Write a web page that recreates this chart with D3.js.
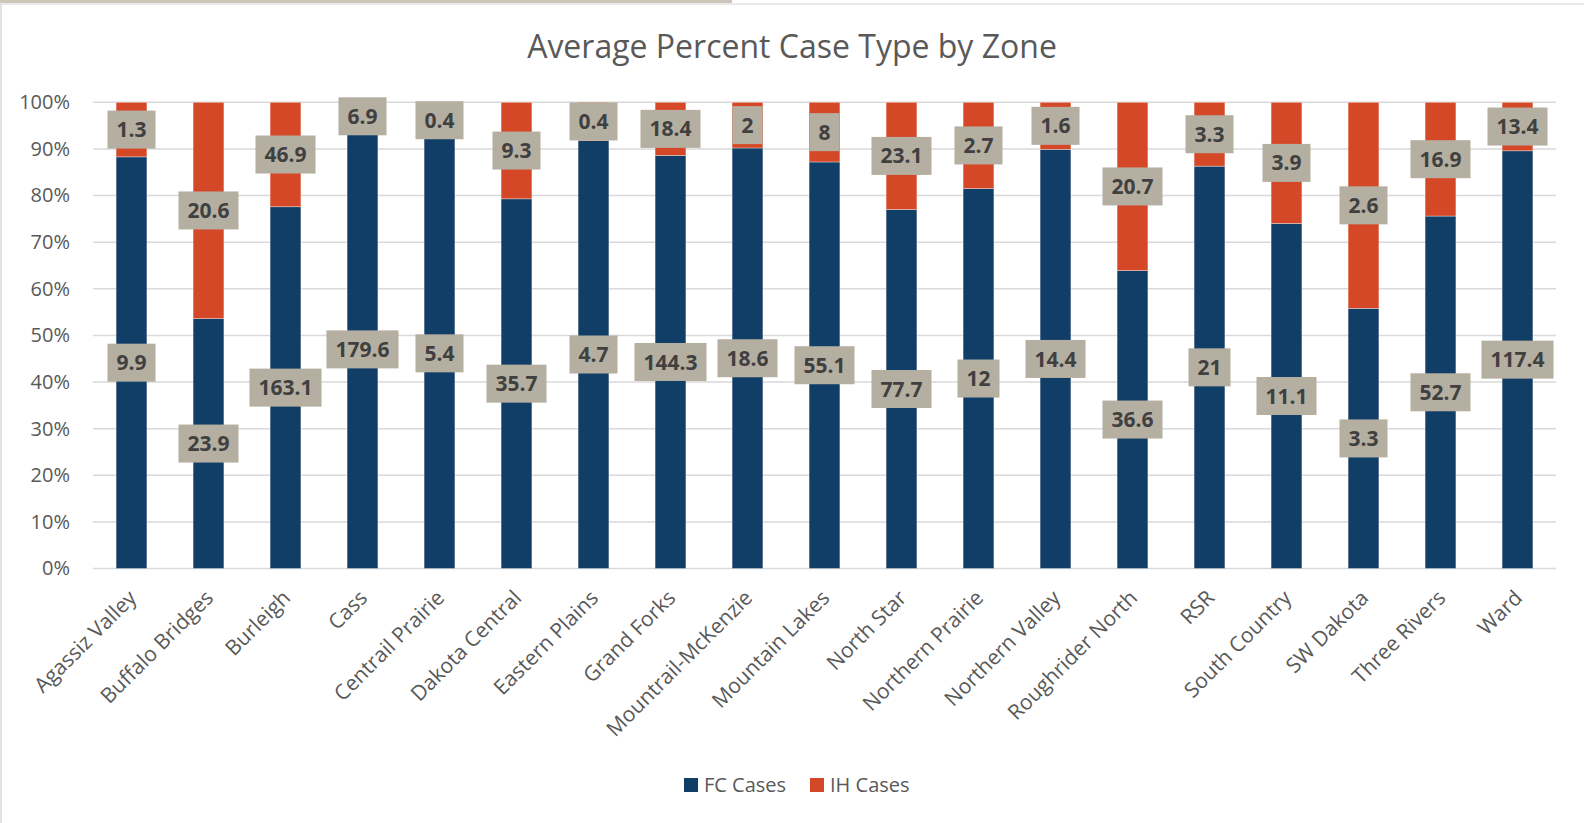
<!DOCTYPE html>
<html>
<head>
<meta charset="utf-8">
<script src="https://cdn.jsdelivr.net/npm/d3@7"></script>
<style>
  html, body { margin: 0; padding: 0; background: #fff; }
  svg { display: block; font-family: "Open Sans", sans-serif; }
</style>
</head>
<body>
<div id="chart"></div>
<script>
// zones on the x axis
var zones = ["Agassiz Valley", "Buffalo Bridges", "Burleigh", "Cass", "Centrail Prairie",
  "Dakota Central", "Eastern Plains", "Grand Forks", "Mountrail-McKenzie", "Mountain Lakes",
  "North Star", "Northern Prairie", "Northern Valley", "Roughrider North", "RSR",
  "South Country", "SW Dakota", "Three Rivers", "Ward"];
// average percent of FC cases (rest is IH)
var fcPercent = [88.3, 53.6, 77.6, 94.0, 92.3, 79.3, 91.8, 88.6, 90.2, 87.2,
  77.0, 81.5, 89.9, 63.9, 86.3, 74.0, 55.8, 75.6, 89.6];
// data label values
var fcLabels = [9.9, 23.9, 163.1, 179.6, 5.4, 35.7, 4.7, 144.3, 18.6, 55.1,
  77.7, 12, 14.4, 36.6, 21, 11.1, 3.3, 52.7, 117.4];
var ihLabels = [1.3, 20.6, 46.9, 6.9, 0.4, 9.3, 0.4, 18.4, 2, 8,
  23.1, 2.7, 1.6, 20.7, 3.3, 3.9, 2.6, 16.9, 13.4];
var yTicks = [0, 0.1, 0.2, 0.3, 0.4, 0.5, 0.6, 0.7, 0.8, 0.9, 1];
var seriesNames = ["FC Cases", "IH Cases"];
var colors = ["#113e67", "#d54827"];

var width = 1584, height = 823;
var svg = d3.select("#chart").append("svg").attr("width", width).attr("height", height);

// frame bits
svg.append("rect").attr("x", 0).attr("y", 0).attr("width", 732).attr("height", 3).attr("fill", "#cac6ba");
svg.append("line").attr("x1", 0).attr("x2", width).attr("y1", 4).attr("y2", 4).attr("stroke", "#e2e2e2").attr("stroke-width", 1.5);
svg.append("line").attr("x1", 1).attr("x2", 1).attr("y1", 4).attr("y2", height).attr("stroke", "#d9d9d9").attr("stroke-width", 1.5);

// title
svg.append("text").attr("x", 792).attr("y", 58).attr("text-anchor", "middle")
  .attr("fill", "#595959").style("font-size", "32px")
  .text("Average Percent Case Type by Zone");

var rows = zones.map(function (z, i) {
  return { zone: z, fc: fcPercent[i] / 100, ih: 1 - fcPercent[i] / 100, fcLabel: fcLabels[i], ihLabel: ihLabels[i] };
});

var x = d3.scaleBand().domain(zones).range([93, 1556]).paddingInner(0.6).paddingOuter(0.3);
var y = d3.scaleLinear().domain([0, 1]).range([568.5, 102.3]);

// gridlines
svg.append("g").selectAll("line").data(yTicks).enter().append("line")
  .attr("x1", 93).attr("x2", 1556)
  .attr("y1", function (d) { return y(d); }).attr("y2", function (d) { return y(d); })
  .attr("stroke", "#d9d9d9").attr("stroke-width", 1.5);

// y axis labels
var yAxis = d3.axisLeft(y).tickValues(yTicks).tickFormat(d3.format(".0%")).tickSize(0).tickPadding(0);
var yg = svg.append("g").attr("transform", "translate(70,0)").call(yAxis);
yg.select(".domain").remove();
yg.selectAll("text").attr("fill", "#595959").style("font-size", "20px").style("font-family", "Open Sans");

var stack = d3.stack().keys(["fc", "ih"]);
var series = stack(rows);

var layers = svg.append("g").selectAll("g").data(series).enter().append("g")
  .attr("fill", function (d, i) { return colors[i]; });
layers.selectAll("rect").data(function (d) { return d; }).enter().append("rect")
  .attr("x", function (d) { return x(d.data.zone); })
  .attr("width", x.bandwidth())
  .attr("y", function (d) { return y(d[1]); })
  .attr("height", function (d) { return y(d[0]) - y(d[1]); })
  .attr("stroke", "rgba(255,255,255,0.45)").attr("stroke-width", 0.75);

// data labels
var labelG = svg.append("g");
series.forEach(function (s, si) {
  s.forEach(function (d) {
    var cx = x(d.data.zone) + x.bandwidth() / 2;
    var cy = (y(d[0]) + y(d[1])) / 2;
    if (cy - 19 < 92) cy = 111;
    var g = labelG.append("g");
    var t = g.append("text").attr("x", cx).attr("y", cy).attr("dy", "0.36em")
      .attr("text-anchor", "middle").attr("fill", "#404040")
      .style("font-size", "21px").style("font-weight", "bold")
      .text(si === 0 ? d.data.fcLabel : d.data.ihLabel);
    var w = t.node().getComputedTextLength() + 18;
    g.insert("rect", "text").attr("x", cx - w / 2).attr("y", cy - 19)
      .attr("width", w).attr("height", 38).attr("fill", "#b5afa1");
  });
});

// x axis labels
var xg = svg.append("g").selectAll("text").data(zones).enter().append("text")
  .attr("transform", function (d) { return "translate(" + (x(d) + x.bandwidth() / 2 + 1) + ",594) rotate(-45)"; })
  .attr("text-anchor", "end").attr("dy", "0.35em")
  .attr("fill", "#595959").style("font-size", "21px")
  .text(function (d) { return d; });

// legend
var legend = svg.append("g");
var legendX = [684, 810];
seriesNames.forEach(function (n, i) {
  legend.append("rect").attr("x", legendX[i]).attr("y", 778).attr("width", 14).attr("height", 14).attr("fill", colors[i]);
  legend.append("text").attr("x", legendX[i] + 20).attr("y", 785).attr("dy", "0.35em")
    .attr("fill", "#595959").style("font-size", "20px").text(n);
});
</script>
</body>
</html>
